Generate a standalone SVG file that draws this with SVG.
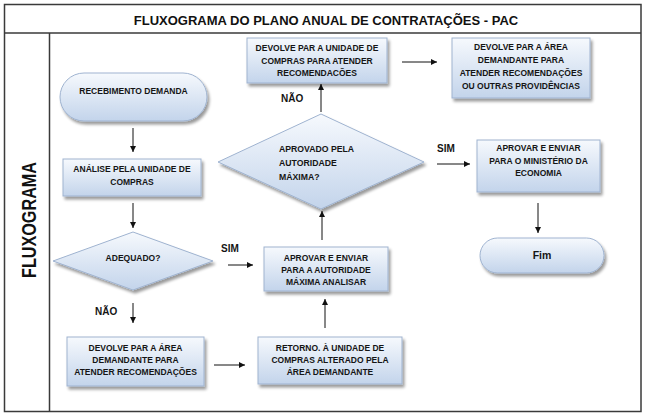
<svg xmlns="http://www.w3.org/2000/svg" width="646" height="415" viewBox="0 0 646 415">
<defs>
<linearGradient id="g" x1="0" y1="0" x2="0" y2="1">
<stop offset="0" stop-color="#f6f9fd"/>
<stop offset="1" stop-color="#c3d4eb"/>
</linearGradient>
<filter id="sh" x="-10%" y="-10%" width="125%" height="135%">
<feGaussianBlur in="SourceAlpha" stdDeviation="1.5"/>
<feOffset dx="2" dy="2.5" result="b"/>
<feComponentTransfer><feFuncA type="linear" slope="0.4"/></feComponentTransfer>
<feMerge><feMergeNode/><feMergeNode in="SourceGraphic"/></feMerge>
</filter>
<marker id="ah" markerWidth="6" markerHeight="6" refX="6" refY="3" orient="auto" markerUnits="userSpaceOnUse">
<path d="M0,0 L6,3 L0,6 z" fill="#111"/>
</marker>
<style>
.shape{fill:url(#g);stroke:#9fb3d0;stroke-width:1;filter:url(#sh)}
.t{font-family:"Liberation Sans",Arial,sans-serif;font-weight:bold;font-size:8.5px;fill:#151515;text-anchor:middle}
.tl{font-family:"Liberation Sans",Arial,sans-serif;font-weight:bold;font-size:8.7px;fill:#151515}
.lab{font-family:"Liberation Sans",Arial,sans-serif;font-weight:bold;font-size:10px;fill:#151515}
.frame{fill:none;stroke:#3a3a3a;stroke-width:1.5}
.c{stroke:#111;stroke-width:1;fill:none;marker-end:url(#ah)}
</style>
</defs>
<rect width="646" height="415" fill="#ffffff"/>
<g id="frame">
<rect class="frame" x="4.5" y="4.5" width="636.5" height="407"/>
<line class="frame" x1="4.5" y1="33" x2="641" y2="33"/>
<line class="frame" x1="49.5" y1="33" x2="49.5" y2="411.5"/>
<text x="326" y="24.5" font-family="Liberation Sans, Arial, sans-serif" font-weight="bold" font-size="13" fill="#111" text-anchor="middle">FLUXOGRAMA DO PLANO ANUAL DE CONTRATAÇÕES - PAC</text>
<text transform="translate(36,220) rotate(-90)" font-family="Liberation Sans, Arial, sans-serif" font-weight="bold" font-size="20" fill="#111" text-anchor="middle" textLength="116" lengthAdjust="spacingAndGlyphs">FLUXOGRAMA</text>
</g>
<g id="connectors">
<line class="c" x1="133" y1="128" x2="133" y2="152"/>
<line class="c" x1="133" y1="203" x2="133" y2="228"/>
<line class="c" x1="228" y1="265" x2="253" y2="265"/>
<line class="c" x1="133" y1="303" x2="133" y2="323"/>
<line class="c" x1="214" y1="365" x2="245" y2="365"/>
<line class="c" x1="325" y1="328" x2="325" y2="299"/>
<line class="c" x1="322" y1="240" x2="322" y2="211"/>
<line class="c" x1="321" y1="112" x2="321" y2="84"/>
<line class="c" x1="402" y1="62" x2="437" y2="62"/>
<line class="c" x1="437" y1="164" x2="470" y2="164"/>
<line class="c" x1="538" y1="203" x2="538" y2="233"/>
<text class="lab" x="221" y="252">SIM</text>
<text class="lab" x="95" y="315">NÃO</text>
<text class="lab" x="281" y="102">NÃO</text>
<text class="lab" x="437" y="152">SIM</text>
</g>
<g id="recebimento">
<rect class="shape" x="60" y="73" width="147" height="48" rx="24" ry="24"/>
<text class="t" x="133.5" y="94">RECEBIMENTO DEMANDA</text>
</g>
<g id="analise">
<rect class="shape" x="63" y="159" width="138" height="37"/>
<text class="t" x="132" y="172">ANÁLISE PELA UNIDADE DE</text>
<text class="t" x="132" y="185">COMPRAS</text>
</g>
<g id="adequado">
<polygon class="shape" points="133,232 213,261 133,290 53,261"/>
<text class="t" x="133" y="261">ADEQUADO?</text>
</g>
<g id="devolve-area">
<rect class="shape" x="67" y="337" width="137" height="49"/>
<text class="t" x="135.5" y="351">DEVOLVE PAR A ÁREA</text>
<text class="t" x="135.5" y="363">DEMANDANTE PARA</text>
<text class="t" x="135.5" y="375">ATENDER RECOMENDAÇÕES</text>
</g>
<g id="retorno">
<rect class="shape" x="258" y="337" width="144" height="47"/>
<text class="t" x="330" y="351">RETORNO. À UNIDADE DE</text>
<text class="t" x="330" y="363">COMPRAS ALTERADO PELA</text>
<text class="t" x="330" y="375">ÁREA DEMANDANTE</text>
</g>
<g id="aprovar-autoridade">
<rect class="shape" x="264" y="247" width="124" height="44"/>
<text class="t" x="326" y="261">APROVAR E ENVIAR</text>
<text class="t" x="326" y="273">PARA A AUTORIDADE</text>
<text class="t" x="326" y="285">MÁXIMA ANALISAR</text>
</g>
<g id="aprovado">
<polygon class="shape" points="321,114 424,162 321,209 218,162"/>
<text class="tl" x="279" y="152">APROVADO PELA</text>
<text class="tl" x="279" y="166">AUTORIDADE</text>
<text class="tl" x="279" y="180">MÁXIMA?</text>
</g>
<g id="devolve-unidade">
<rect class="shape" x="247" y="38" width="140" height="45"/>
<text class="t" x="317" y="51">DEVOLVE PAR A UNIDADE DE</text>
<text class="t" x="317" y="64">COMPRAS PARA ATENDER</text>
<text class="t" x="317" y="76">RECOMENDACÕES</text>
</g>
<g id="devolve-area-outras">
<rect class="shape" x="452" y="38" width="138" height="60"/>
<text class="t" x="521" y="50">DEVOLVE PAR A ÁREA</text>
<text class="t" x="521" y="63">DEMANDANTE PARA</text>
<text class="t" x="521" y="76">ATENDER RECOMENDAÇÕES</text>
<text class="t" x="521" y="89">OU OUTRAS PROVIDÊNCIAS</text>
</g>
<g id="aprovar-ministerio">
<rect class="shape" x="477" y="140" width="123" height="52"/>
<text class="t" x="538.5" y="151">APROVAR E ENVIAR</text>
<text class="t" x="538.5" y="164">PARA O MINISTÉRIO DA</text>
<text class="t" x="538.5" y="176">ECONOMIA</text>
</g>
<g id="fim">
<rect class="shape" x="480" y="238" width="124" height="35" rx="17.5" ry="17.5"/>
<text class="t" x="542" y="259" style="font-size:10.5px">Fim</text>
</g>
</svg>
